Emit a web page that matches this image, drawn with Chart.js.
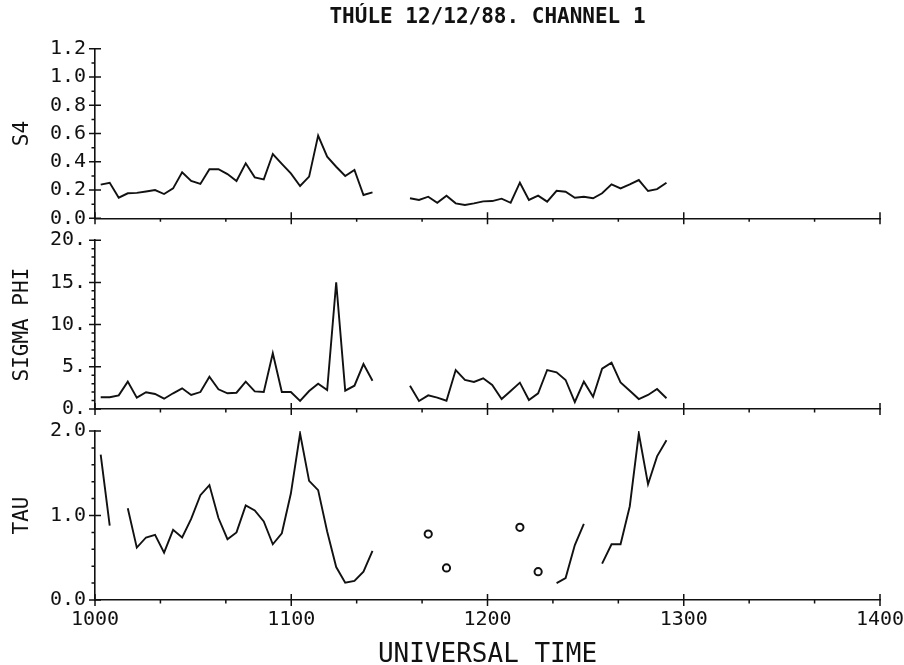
<!DOCTYPE html>
<html>
<head>
<meta charset="utf-8">
<script src="https://cdn.jsdelivr.net/npm/chart.js@4.4.0/dist/chart.umd.min.js"></script>
<style>
html,body{margin:0;padding:0;background:#fff;}
#wrap{position:relative;width:904px;height:665px;background:#fff;}
#wrap canvas{position:absolute;left:0;top:0;}
</style>
</head>
<body>
<div id="wrap">
<canvas id="c1" width="904" height="665"></canvas>
<canvas id="c2" width="904" height="665"></canvas>
<canvas id="c3" width="904" height="665"></canvas>
</div>
<script>
// ---- data ----
const timesA = [1002.9, 1007.5, 1012.1, 1016.7, 1021.3, 1026.0, 1030.6, 1035.2, 1039.8, 1044.4,
  1049.0, 1053.7, 1058.3, 1062.9, 1067.5, 1072.1, 1076.8, 1081.4, 1086.0, 1090.6,
  1095.2, 1099.8, 1104.5, 1109.1, 1113.7, 1118.3, 1122.9, 1127.5, 1132.2, 1136.8, 1141.4];
const timesB = [1160.5, 1165.1, 1169.8, 1174.4, 1179.1, 1183.8, 1188.5, 1193.1, 1197.8, 1202.4,
  1207.2, 1211.8, 1216.5, 1221.1, 1225.8, 1230.4, 1235.2, 1239.8, 1244.5, 1249.1,
  1253.8, 1258.4, 1263.2, 1267.8, 1272.5, 1277.1, 1281.8, 1286.4, 1291.2];

const s4A = [0.238, 0.252, 0.146, 0.177, 0.18, 0.19, 0.2, 0.172, 0.212, 0.325,
  0.264, 0.243, 0.347, 0.347, 0.313, 0.264, 0.389, 0.29, 0.276, 0.455,
  0.385, 0.318, 0.229, 0.295, 0.585, 0.436, 0.365, 0.3, 0.342, 0.165, 0.184];
const s4B = [0.142, 0.13, 0.153, 0.11, 0.16, 0.106, 0.094, 0.106, 0.12, 0.122,
  0.139, 0.11, 0.252, 0.13, 0.16, 0.118, 0.195, 0.188, 0.146, 0.153,
  0.142, 0.177, 0.24, 0.212, 0.24, 0.271, 0.193, 0.207, 0.252];

const phiA = [1.39, 1.39, 1.62, 3.24, 1.34, 1.98, 1.78, 1.22, 1.86, 2.45,
  1.66, 2.01, 3.83, 2.33, 1.86, 1.93, 3.24, 2.09, 2.01, 6.6,
  2.01, 2.01, 0.95, 2.13, 3.0, 2.25, 15.0, 2.17, 2.76, 5.33, 3.35];
const phiB = [2.76, 0.95, 1.62, 1.34, 0.98, 4.62, 3.44, 3.2, 3.64, 2.84,
  1.18, 2.13, 3.12, 1.07, 1.86, 4.62, 4.35, 3.44, 0.83, 3.24,
  1.46, 4.78, 5.49, 3.16, 2.17, 1.18, 1.66, 2.37, 1.27];

const tauA = [1.72, 0.88, null, 1.085, 0.62, 0.74, 0.77, 0.56, 0.83, 0.74,
  0.96, 1.24, 1.36, 0.97, 0.72, 0.80, 1.12, 1.06, 0.93, 0.66,
  0.79, 1.26, 1.97, 1.41, 1.30, 0.81, 0.39, 0.205, 0.225, 0.335, 0.58];
const tauB = [null, null, 0.78, null, 0.38, null, null, null, null, null,
  null, null, 0.86, null, 0.335, null, 0.2, 0.26, 0.65, 0.90,
  null, 0.43, 0.66, 0.66, 1.11, 1.97, 1.37, 1.70, 1.89];

// small stacked dots drawn above the TAU peaks
const markTimes = [1104.5, 1104.5, 1277.1, 1277.1];
const markLevels = [2.08, 2.18, 2.08, 2.18];

const xTickValues = [1000, 1100, 1200, 1300, 1400];
const xTickLabels = ['1000', '1100', '1200', '1300', '1400'];
const s4TickLabels = ['0.0', '0.2', '0.4', '0.6', '0.8', '1.0', '1.2'];
const phiTickLabels = ['0.', '5.', '10.', '15.', '20.'];
const tauTickLabels = ['0.0', '1.0', '2.0'];

const TITLE = 'THÚLE 12/12/88. CHANNEL 1';
const XTITLE = 'UNIVERSAL TIME';

// ---- helpers ----
const INK = '#111';
const MONO = "'DejaVu Sans Mono', 'Liberation Mono', monospace";
const toPts = (ts, vs) => ts.map((t, i) => ({x: t, y: vs[i]}));
function range(a, b, step, skipEvery) {
  const out = [];
  for (let i = 0; a + i * step <= b + 1e-9; i++) {
    if (skipEvery && i % skipEvery === 0) continue;
    out.push(a + i * step);
  }
  return out;
}

const tickPlugin = {
  id: 'plotterTicks',
  afterDraw(chart, args, opts) {
    const {ctx} = chart;
    const x = chart.scales.x, y = chart.scales.y;
    const ax = chart.chartArea.left, ay = chart.chartArea.bottom;
    ctx.save();
    ctx.strokeStyle = INK;
    ctx.lineWidth = 1.5;
    ctx.beginPath();
    opts.yMajor.forEach(v => { const p = y.getPixelForValue(v); ctx.moveTo(ax - 6, p); ctx.lineTo(ax + 6, p); });
    opts.yMinor.forEach(v => { const p = y.getPixelForValue(v); ctx.moveTo(ax - 3.5, p); ctx.lineTo(ax, p); });
    opts.xMajor.forEach(v => { const p = x.getPixelForValue(v); ctx.moveTo(p, ay - 6); ctx.lineTo(p, ay + 6); });
    opts.xMinor.forEach(v => { const p = x.getPixelForValue(v); ctx.moveTo(p, ay); ctx.lineTo(p, ay + 3.5); });
    ctx.stroke();
    ctx.restore();
  }
};

function lineSet(points) {
  return {
    type: 'line', data: points, borderColor: INK, borderWidth: 1.9,
    pointRadius: 0, spanGaps: false, tension: 0, fill: false
  };
}

function isolated(ctx) {
  const d = ctx.dataset.data, i = ctx.dataIndex;
  if (!d[i] || d[i].y === null) return false;
  const prev = i > 0 ? d[i - 1].y : null;
  const next = i < d.length - 1 ? d[i + 1].y : null;
  return prev === null && next === null;
}

function makePanel(id, cfg) {
  const xMinor = range(1000, 1400, 100 / 3, 3);
  return new Chart(document.getElementById(id), {
    type: 'line',
    data: {datasets: cfg.datasets},
    options: {
      responsive: false, animation: false, devicePixelRatio: 1,
      events: [],
      layout: {padding: {left: 0, right: 24, top: cfg.padTop, bottom: cfg.padBottom}},
      plugins: {
        legend: {display: false}, tooltip: {enabled: false},
        title: cfg.title ? {
          display: true, text: cfg.title, fullSize: false, color: INK,
          font: {family: MONO, size: 21, weight: 'bold', lineHeight: 1},
          padding: {top: 7, bottom: 20.8}
        } : {display: false},
        plotterTicks: {yMajor: cfg.yMajor, yMinor: cfg.yMinor, xMajor: xTickValues, xMinor: xMinor}
      },
      scales: {
        x: {
          type: 'linear', min: 1000, max: 1400,
          afterBuildTicks: s => { s.ticks = xTickValues.map(v => ({value: v})); },
          grid: {display: false, drawTicks: false},
          border: {display: true, color: INK, width: 1.6},
          ticks: {
            display: !!cfg.xLabels, color: INK, padding: 8, maxRotation: 0,
            font: {family: MONO, size: 20, lineHeight: 1.2},
            callback: (v) => xTickLabels[xTickValues.indexOf(v)]
          },
          title: cfg.xLabels ? {
            display: true, text: XTITLE, color: INK,
            font: {family: MONO, size: 26, lineHeight: 1}, padding: {top: 0, bottom: -3}
          } : {display: false},
          afterFit: s => { s.height = cfg.xHeight; s.paddingLeft = 0; s.paddingRight = 0; }
        },
        y: {
          type: 'linear', min: cfg.yMin, max: cfg.yMax,
          afterBuildTicks: s => { s.ticks = cfg.yMajor.map(v => ({value: v})); },
          grid: {display: false, drawTicks: false},
          border: {display: true, color: INK, width: 1.6},
          ticks: {
            color: INK, padding: 9,
            font: {family: MONO, size: 20, lineHeight: 1.2},
            callback: (v) => cfg.yLabels[Math.round((v - cfg.yMin) / cfg.yStep)]
          },
          title: {
            display: true, text: cfg.yTitle, color: INK,
            font: {family: MONO, size: 21, lineHeight: 1}, padding: {top: 12, bottom: 0}
          },
          afterFit: s => { s.width = 95; s.paddingTop = 0; s.paddingBottom = 0; }
        }
      }
    },
    plugins: [tickPlugin]
  });
}

// ---- panels ----
makePanel('c1', {
  title: TITLE, padTop: 0, padBottom: 446.7, xHeight: 0, xLabels: false,
  yMin: 0, yMax: 1.2, yStep: 0.2, yLabels: s4TickLabels, yTitle: 'S4',
  yMajor: range(0, 1.2, 0.2), yMinor: range(0.1, 1.1, 0.2),
  datasets: [lineSet(toPts(timesA, s4A)), lineSet(toPts(timesB, s4B))]
});

makePanel('c2', {
  padTop: 240.2, padBottom: 256, xHeight: 0, xLabels: false,
  yMin: 0, yMax: 20, yStep: 5, yLabels: phiTickLabels, yTitle: 'SIGMA PHI',
  yMajor: range(0, 20, 5), yMinor: range(0, 20, 1, 5),
  datasets: [lineSet(toPts(timesA, phiA)), lineSet(toPts(timesB, phiB))]
});

const tauLineB = lineSet(toPts(timesB, tauB));
tauLineB.pointRadius = (c) => isolated(c) ? 3.6 : 0;
tauLineB.pointBorderWidth = 2;
tauLineB.pointBorderColor = INK;
tauLineB.pointBackgroundColor = '#fff';
tauLineB.pointStyle = 'circle';

makePanel('c3', {
  padTop: 431, padBottom: 0, xHeight: 65, xLabels: true,
  yMin: 0, yMax: 2, yStep: 1, yLabels: tauTickLabels, yTitle: 'TAU',
  yMajor: range(0, 2, 1), yMinor: range(0, 2, 0.2, 5),
  datasets: [
    lineSet(toPts(timesA, tauA)),
    tauLineB,
    {type: 'scatter', data: toPts(markTimes, markLevels), showLine: false, clip: false,
     pointRadius: 2, pointBackgroundColor: INK, pointBorderColor: INK, pointBorderWidth: 0}
  ]
});
</script>
</body>
</html>
